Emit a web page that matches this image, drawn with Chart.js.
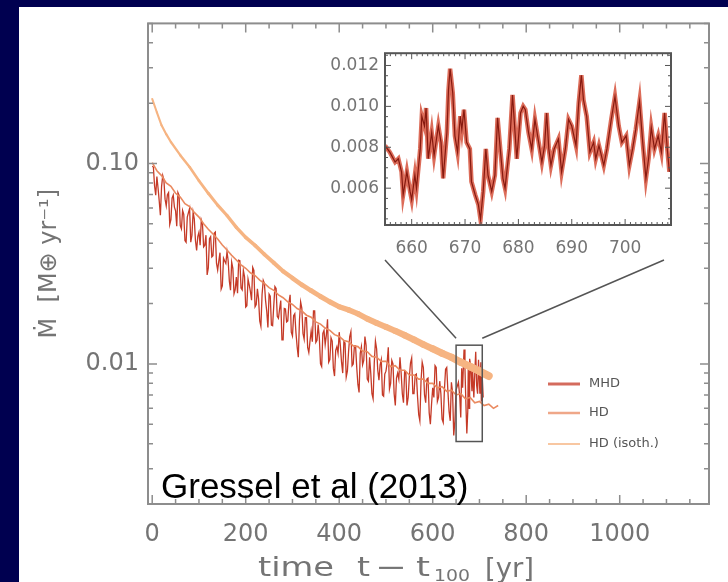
<!DOCTYPE html>
<html>
<head>
<meta charset="utf-8">
<script src="https://cdn.jsdelivr.net/npm/chart.js@4.4.1/dist/chart.umd.min.js"></script>
<style>
  html, body { margin: 0; padding: 0; background: #000050; }
  #wrap { position: relative; width: 728px; height: 582px; overflow: hidden; }
  #panel { position: absolute; left: 19px; top: 7px; width: 709px; height: 575px; background: #fff; }
  #main { position: absolute; left: 0; top: 0; }
  #inset { position: absolute; left: 322px; top: 37px; }
</style>
</head>
<body>
<div id="wrap">
  <div id="panel"></div>
  <canvas id="main" width="728" height="582"></canvas>
  <canvas id="inset" width="356" height="225"></canvas>
</div>
<script>
// values (accretion rate in M_earth/yr vs time in yr)
const xTicks = [0, 200, 400, 600, 800, 1000];
const yTicks = [0.01, 0.1];
const yTickLabels = ['0.01', '0.10'];

const insetXTicks = [660, 670, 680, 690, 700];
const insetYTicks = [0.006, 0.008, 0.010, 0.012];
const insetYTickLabels = ['0.006', '0.008', '0.010', '0.012'];

const seriesNames = ['MHD', 'HD', 'HD (isoth.)'];

const mhdTime = [
  0, 2.5, 5, 7.5, 10, 12.5, 15, 17.5, 20, 22.5,
  25, 27.5, 30, 32.5, 35, 37.5, 40, 42.5, 45, 47.5,
  50, 52.5, 55, 57.5, 60, 62.5, 65, 67.5, 70, 72.5,
  75, 77.5, 80, 82.5, 85, 87.5, 90, 92.5, 95, 97.5,
  100, 102.5, 105, 107.5, 110, 112.5, 115, 117.5, 120, 122.5,
  125, 127.5, 130, 132.5, 135, 137.5, 140, 142.5, 145, 147.5,
  150, 152.5, 155, 157.5, 160, 162.5, 165, 167.5, 170, 172.5,
  175, 177.5, 180, 182.5, 185, 187.5, 190, 192.5, 195, 197.5,
  200, 202.5, 205, 207.5, 210, 212.5, 215, 217.5, 220, 222.5,
  225, 227.5, 230, 232.5, 235, 237.5, 240, 242.5, 245, 247.5,
  250, 252.5, 255, 257.5, 260, 262.5, 265, 267.5, 270, 272.5,
  275, 277.5, 280, 282.5, 285, 287.5, 290, 292.5, 295, 297.5,
  300, 302.5, 305, 307.5, 310, 312.5, 315, 317.5, 320, 322.5,
  325, 327.5, 330, 332.5, 335, 337.5, 340, 342.5, 345, 347.5,
  350, 352.5, 355, 357.5, 360, 362.5, 365, 367.5, 370, 372.5,
  375, 377.5, 380, 382.5, 385, 387.5, 390, 392.5, 395, 397.5,
  400, 402.5, 405, 407.5, 410, 412.5, 415, 417.5, 420, 422.5,
  425, 427.5, 430, 432.5, 435, 437.5, 440, 442.5, 445, 447.5,
  450, 452.5, 455, 457.5, 460, 462.5, 465, 467.5, 470, 472.5,
  475, 477.5, 480, 482.5, 485, 487.5, 490, 492.5, 495, 497.5,
  500, 502.5, 505, 507.5, 510, 512.5, 515, 517.5, 520, 522.5,
  525, 527.5, 530, 532.5, 535, 537.5, 540, 542.5, 545, 547.5,
  550, 552.5, 555, 557.5, 560, 562.5, 565, 567.5, 570, 572.5,
  575, 577.5, 580, 582.5, 585, 587.5, 590, 592.5, 595, 597.5,
  600, 602.5, 605, 607.5, 610, 612.5, 615, 617.5, 620, 622.5,
  625, 627.5, 630, 632.5, 635, 637.5, 640, 642.5, 645, 647.5,
  650, 655, 658, 660, 662, 664, 667, 669, 671, 673,
  675, 676, 678, 679, 681, 684, 685, 688, 690, 692,
  694, 696, 698, 701, 703, 704, 706, 708
];
const mhdMdot = [
  0.097, 0.0960, 0.0774, 0.0694, 0.0860, 0.0755, 0.0650, 0.0552, 0.0766, 0.0870,
  0.0828, 0.0664, 0.0615, 0.0699, 0.0716, 0.0496, 0.0524, 0.0671, 0.0696, 0.0606,
  0.0580, 0.0486, 0.0717, 0.0694, 0.0490, 0.0472, 0.0583, 0.0558, 0.0413, 0.0405,
  0.0540, 0.0569, 0.0598, 0.0405, 0.0439, 0.0571, 0.0529, 0.0413, 0.0368, 0.0432,
  0.0454, 0.0391, 0.0523, 0.0499, 0.0384, 0.0391, 0.0439, 0.0278, 0.0301, 0.0421,
  0.0431, 0.0342, 0.0347, 0.0449, 0.0455, 0.0318, 0.0294, 0.0327, 0.0359, 0.0236,
  0.0245, 0.0337, 0.0326, 0.0317, 0.0363, 0.0327, 0.0259, 0.0233, 0.0322, 0.0300,
  0.0224, 0.0235, 0.0271, 0.0225, 0.0329, 0.0327, 0.0239, 0.0234, 0.0293, 0.0272,
  0.0192, 0.0195, 0.0265, 0.0248, 0.0230, 0.0208, 0.0303, 0.0293, 0.0193, 0.0198,
  0.0237, 0.0211, 0.0164, 0.0154, 0.0222, 0.0261, 0.0252, 0.0207, 0.0183, 0.0152,
  0.0223, 0.0218, 0.0156, 0.0155, 0.0195, 0.0243, 0.0238, 0.0173, 0.0169, 0.0188,
  0.0207, 0.0132, 0.0132, 0.0189, 0.0188, 0.0162, 0.0164, 0.0202, 0.0221, 0.0144,
  0.0138, 0.0174, 0.0178, 0.0143, 0.0122, 0.0108, 0.0165, 0.0204, 0.0190, 0.0142,
  0.0133, 0.0170, 0.0170, 0.0121, 0.0114, 0.0130, 0.0146, 0.0129, 0.0184, 0.0184,
  0.0128, 0.0131, 0.0157, 0.0135, 0.0100, 0.0097, 0.0142, 0.0147, 0.0125, 0.0139,
  0.0167, 0.0102, 0.0105, 0.0135, 0.0130, 0.0095, 0.0087, 0.0117, 0.0122, 0.0113,
  0.0144, 0.0123, 0.0102, 0.0090, 0.0129, 0.0127, 0.0086, 0.0092, 0.0115, 0.0137,
  0.0145, 0.0098, 0.0100, 0.0123, 0.0123, 0.0096, 0.0079, 0.0072, 0.0113, 0.0122,
  0.0099, 0.0104, 0.0137, 0.0124, 0.0084, 0.0082, 0.0108, 0.0090, 0.0071, 0.0067,
  0.0101, 0.0130, 0.0119, 0.0093, 0.0083, 0.0099, 0.0105, 0.0070, 0.0069, 0.0089,
  0.0092, 0.0101, 0.0121, 0.0075, 0.0080, 0.0104, 0.0100, 0.0071, 0.0062, 0.0085,
  0.0090, 0.0084, 0.0108, 0.0090, 0.0071, 0.0064, 0.0092, 0.0091, 0.0062, 0.0068,
  0.0086, 0.0101, 0.0107, 0.0071, 0.0071, 0.0088, 0.0089, 0.0069, 0.0056, 0.0052,
  0.0082, 0.0102, 0.0096, 0.0070, 0.0064, 0.0084, 0.0085, 0.0057, 0.0050, 0.0063,
  0.0076, 0.0068, 0.0098, 0.0096, 0.0065, 0.0068, 0.0082, 0.0071, 0.0053, 0.0051,
  0.0074, 0.0094, 0.0096, 0.0073, 0.0058, 0.0052, 0.0081, 0.0072, 0.0044, 0.0052,
  0.0074, 0.0081, 0.0068, 0.0054, 0.0095, 0.0076, 0.0118, 0.0095, 0.0063, 0.0045,
  0.0058, 0.0094, 0.0060, 0.0106, 0.0098, 0.0073, 0.0097, 0.0068, 0.0090, 0.0115,
  0.0078, 0.0071, 0.0105, 0.0071, 0.0102, 0.0065, 0.0086, 0.0068
];

const hdTime = [
  0, 10, 20, 30, 40, 50, 60, 70, 80, 90,
  100, 110, 120, 130, 140, 150, 160, 170, 180, 190,
  200, 210, 220, 230, 240, 250, 260, 270, 280, 290,
  300, 310, 320, 330, 340, 350, 360, 370, 380, 390,
  400, 410, 420, 430, 440, 450, 460, 470, 480, 490,
  500, 510, 520, 530, 540, 550, 560, 570, 580, 590,
  600, 610, 620, 630, 640, 650, 660, 670, 680, 690,
  700, 710, 720, 730, 740
];
const hdMdot = [
  0.101, 0.092, 0.087, 0.080, 0.077, 0.071, 0.068, 0.063, 0.061, 0.057,
  0.054, 0.050, 0.047, 0.0445, 0.042, 0.0392, 0.037, 0.0348, 0.033, 0.0312,
  0.030, 0.0285, 0.0276, 0.0262, 0.0252, 0.0240, 0.0233, 0.0221, 0.0214, 0.0204,
  0.0198, 0.0189, 0.0184, 0.0175, 0.0171, 0.0162, 0.0158, 0.0151, 0.0147, 0.0140,
  0.0137, 0.0131, 0.0129, 0.0123, 0.0122, 0.0116, 0.0115, 0.0109, 0.0108, 0.0103,
  0.0103, 0.0097, 0.0098, 0.0093, 0.0093, 0.0088, 0.0088, 0.0084, 0.0084, 0.0080,
  0.0080, 0.0076, 0.0077, 0.0073, 0.0074, 0.0070, 0.0071, 0.0067, 0.0068, 0.0064,
  0.0065, 0.0062, 0.0063, 0.0060, 0.0062
];

const isoTime = [
  0, 10, 20, 30, 40, 60, 80, 100, 120, 140,
  160, 180, 200, 220, 240, 260, 280, 300, 320, 340,
  360, 380, 400, 420, 440, 460, 480, 500, 520, 540,
  560, 580, 600, 620, 640, 660, 680, 700, 720
];
const isoMdot = [
  0.21, 0.18, 0.155, 0.140, 0.128, 0.110, 0.096, 0.082, 0.071, 0.062,
  0.055, 0.048, 0.0428, 0.0390, 0.0352, 0.0320, 0.0290, 0.0268, 0.0248, 0.0232,
  0.0217, 0.0204, 0.0193, 0.0186, 0.0178, 0.0168, 0.0160, 0.0153, 0.0146, 0.0139,
  0.0132, 0.0125, 0.0119, 0.0113, 0.0108, 0.0102, 0.0097, 0.0092, 0.0087
];

// zoomed-in MHD segment shown in the inset
const insetTime = [
  655, 655.9, 656.9, 657.5, 658.1, 658.4, 659.1, 659.7, 660, 660.6,
  660.9, 661.6, 661.9, 662.4, 662.7, 663.1, 663.75, 664.2, 665, 665.5,
  665.9, 666.6, 666.9, 667.2, 667.7, 668.1, 668.6, 669.1, 669.4, 669.8,
  670.3, 670.9, 671.2, 671.9, 672.5, 672.9, 673.4, 673.9, 674.3, 675,
  675.6, 676.1, 676.6, 677.1, 677.5, 678.3, 678.9, 679.7, 680.4, 680.9,
  681.3, 681.9, 682.5, 683.1, 683.8, 684.4, 684.9, 685.3, 685.7, 686.1,
  686.7, 687.5, 688.1, 688.8, 689.4, 690, 690.8, 691.3, 691.8, 692.2,
  692.8, 693.4, 694.1, 694.5, 695.1, 696, 696.6, 697.4, 698.1, 698.8,
  699.4, 700.2, 700.8, 701.4, 702, 702.7, 703.3, 703.9, 704.4, 704.9,
  705.5, 706.2, 706.8, 707.4, 707.9, 708.3
];
const insetMdot = [
  0.00808, 0.00776, 0.00728, 0.00744, 0.00680, 0.00568, 0.00680, 0.00584, 0.00544, 0.00664,
  0.00600, 0.00792, 0.00952, 0.00904, 0.00992, 0.00744, 0.00872, 0.00760, 0.00904, 0.00824,
  0.00648, 0.00872, 0.01080, 0.01184, 0.01064, 0.00856, 0.00776, 0.00952, 0.00888, 0.00984,
  0.00824, 0.00792, 0.00632, 0.00568, 0.00520, 0.00448, 0.00584, 0.00792, 0.00664, 0.00584,
  0.00664, 0.00944, 0.00792, 0.00648, 0.00600, 0.00792, 0.01056, 0.00744, 0.00968, 0.01000,
  0.00984, 0.00872, 0.00792, 0.00936, 0.00824, 0.00728, 0.00808, 0.00968, 0.00792, 0.00712,
  0.00792, 0.00840, 0.00680, 0.00792, 0.00936, 0.00904, 0.00808, 0.01016, 0.01152, 0.01032,
  0.00952, 0.00776, 0.00824, 0.00744, 0.00808, 0.00712, 0.00792, 0.00936, 0.01048, 0.00904,
  0.00824, 0.00856, 0.00712, 0.00792, 0.00888, 0.01024, 0.00824, 0.00648, 0.00744, 0.00896,
  0.00792, 0.00856, 0.00776, 0.00968, 0.00792, 0.00680
];

const toPoints = (xs, ys) => xs.map((x, i) => ({ x: x, y: ys[i] }));

function steps(a, b, d) {
  const out = [];
  for (let v = a; v <= b + d / 1000; v += d) out.push(Math.round(v * 1e6) / 1e6);
  return out;
}
function logMinor(lo, hi) {
  const out = [];
  [0.001, 0.01, 0.1].forEach(dec => {
    for (let k = 1; k <= 9; k++) {
      const v = Math.round(k * dec * 1e6) / 1e6;
      if (v >= lo && v <= hi) out.push(v);
    }
  });
  return out;
}

const GREY = '#747474';
const tickFont = { family: 'DejaVu Sans', size: 24 };

// box frame with inward ticks on all four sides, IDL style
const framePlugin = {
  id: 'frame',
  beforeDatasetsDraw(chart, args, o) {
    if (!o.fill) return;
    const a = chart.chartArea;
    chart.ctx.save();
    chart.ctx.fillStyle = o.fill;
    chart.ctx.fillRect(a.left, a.top, a.right - a.left, a.bottom - a.top);
    chart.ctx.restore();
  },
  afterDatasetsDraw(chart, args, o) {
    const { ctx, chartArea: a, scales } = chart;
    const isMajor = (list, v) => list.some(m => Math.abs(m - v) < 1e-9);
    ctx.save();
    ctx.strokeStyle = o.color;
    ctx.lineWidth = o.tickWidth;
    ctx.beginPath();
    o.xMinor.forEach(v => {
      const px = scales.x.getPixelForValue(v);
      if (px < a.left || px > a.right) return;
      const len = isMajor(o.xMajor, v) ? o.major : o.minor;
      ctx.moveTo(px, a.bottom); ctx.lineTo(px, a.bottom - len);
      ctx.moveTo(px, a.top); ctx.lineTo(px, a.top + len);
    });
    o.yMinor.forEach(v => {
      const py = scales.y.getPixelForValue(v);
      if (py < a.top || py > a.bottom) return;
      const len = isMajor(o.yMajor, v) ? o.major : o.minor;
      ctx.moveTo(a.left, py); ctx.lineTo(a.left + len, py);
      ctx.moveTo(a.right, py); ctx.lineTo(a.right - len, py);
    });
    ctx.stroke();
    ctx.lineWidth = o.width;
    ctx.strokeRect(a.left, a.top, a.right - a.left, a.bottom - a.top);
    ctx.restore();
  }
};

// rectangle around the zoomed region plus the two connector lines to the inset
const zoomBoxPlugin = {
  id: 'zoomBox',
  afterDatasetsDraw(chart, args, o) {
    const { ctx, scales: { x, y } } = chart;
    const l = x.getPixelForValue(o.x0), r = x.getPixelForValue(o.x1);
    const t = y.getPixelForValue(o.y1), b = y.getPixelForValue(o.y0);
    ctx.save();
    ctx.strokeStyle = o.color;
    ctx.lineWidth = o.width;
    ctx.strokeRect(l, t, r - l, b - t);
    ctx.beginPath();
    ctx.moveTo(l, t - o.gap); ctx.lineTo(o.leftEnd[0], o.leftEnd[1]);
    ctx.moveTo(r, t - o.gap); ctx.lineTo(o.rightEnd[0], o.rightEnd[1]);
    ctx.stroke();
    ctx.restore();
  }
};

const sideLegendPlugin = {
  id: 'sideLegend',
  afterDraw(chart, args, o) {
    const ctx = chart.ctx;
    ctx.save();
    ctx.font = o.font;
    ctx.textBaseline = 'middle';
    chart.data.datasets.forEach((ds, i) => {
      const yy = o.rows[i];
      ctx.globalAlpha = 0.75;
      ctx.strokeStyle = ds.borderColor;
      ctx.lineWidth = o.widths[i];
      ctx.beginPath();
      ctx.moveTo(o.x0, yy); ctx.lineTo(o.x1, yy);
      ctx.stroke();
      ctx.globalAlpha = 1;
      ctx.fillStyle = o.textColor;
      ctx.fillText(ds.label, o.textX, yy);
    });
    ctx.restore();
  }
};

// x-axis title (the original font is wide, so each piece is stretched to its span) and the citation
const textPlugin = {
  id: 'notes',
  afterDraw(chart, args, o) {
    const ctx = chart.ctx;
    ctx.save();
    ctx.textBaseline = 'alphabetic';
    ctx.fillStyle = GREY;
    o.pieces.forEach(p => {
      ctx.font = p.size + 'px "DejaVu Sans"';
      const w = ctx.measureText(p.text).width;
      ctx.save();
      ctx.translate(p.x0, p.y);
      ctx.scale((p.x1 - p.x0) / w, 1);
      ctx.fillText(p.text, 0, 0);
      ctx.restore();
    });
    ctx.font = '35px "Liberation Sans", Arial, sans-serif';
    ctx.fillStyle = '#000';
    ctx.fillText(o.cite, o.citeX, o.citeY);
    ctx.restore();
  }
};

new Chart(document.getElementById('main'), {
  type: 'line',
  data: {
    datasets: [
      { label: seriesNames[0], data: toPoints(mhdTime, mhdMdot), borderColor: '#c53a27', borderWidth: 1.3, order: 3 },
      { label: seriesNames[1], data: toPoints(hdTime, hdMdot), borderColor: '#ea8a60', borderWidth: 1.6, order: 2 },
      {
        label: seriesNames[2], data: toPoints(isoTime, isoMdot), borderColor: '#f6b482', borderWidth: 2,
        borderCapStyle: 'round', order: 1,
        segment: { borderWidth: c => 2 + 6 * c.p0.parsed.x / 720 }
      }
    ]
  },
  options: {
    responsive: false,
    animation: false,
    elements: { point: { radius: 0 }, line: { tension: 0 } },
    layout: { padding: { left: 20, top: 23, right: 19, bottom: 0 } },
    plugins: {
      legend: { display: false },
      tooltip: { enabled: false },
      frame: {
        color: '#8d8d8d', width: 2, tickWidth: 1.5, major: 9, minor: 5,
        xMajor: xTicks, xMinor: steps(0, 1150, 50),
        yMajor: yTicks, yMinor: logMinor(0.002, 0.5)
      },
      zoomBox: {
        x0: 650, x1: 706, y0: 0.0041, y1: 0.0124, color: '#555', width: 1.5, gap: 7,
        leftEnd: [385, 260], rightEnd: [664, 260]
      },
      sideLegend: {
        rows: [384, 413, 444], widths: [3, 2.5, 2], x0: 548, x1: 580, textX: 589,
        font: '13px "DejaVu Sans"', textColor: '#555'
      },
      notes: {
        pieces: [
          { text: 'time', x0: 258, x1: 334, y: 576, size: 26 },
          { text: 't', x0: 357, x1: 370, y: 576, size: 26 },
          { text: '\u2212', x0: 375, x1: 407, y: 576, size: 26 },
          { text: 't', x0: 416, x1: 430, y: 576, size: 26 },
          { text: '100', x0: 434, x1: 470, y: 581, size: 15 },
          { text: '[yr]', x0: 485, x1: 534, y: 577, size: 26 }
        ],
        cite: 'Gressel et al (2013)', citeX: 161, citeY: 498
      }
    },
    scales: {
      x: {
        type: 'linear', min: -9, max: 1191,
        grid: { display: false, drawTicks: false },
        border: { display: false },
        afterBuildTicks: s => { s.ticks = xTicks.map(v => ({ value: v })); },
        afterFit: s => { s.height = 78; },
        ticks: { padding: 16, font: tickFont, color: GREY, maxRotation: 0, autoSkip: false, callback: v => String(v) }
      },
      y: {
        type: 'logarithmic', min: 0.002, max: 0.5,
        grid: { display: false, drawTicks: false },
        border: { display: false },
        afterBuildTicks: s => { s.ticks = yTicks.map(v => ({ value: v })); },
        afterFit: s => { s.width = 128; },
        ticks: { padding: 9, font: tickFont, color: GREY, autoSkip: false, callback: (v, i) => yTickLabels[i] },
        title: {
          display: true, text: '\u1E40  [M\u2295 yr\u207B\u00B9]',
          font: { family: 'DejaVu Sans', size: 24 }, color: GREY, padding: { top: 15, bottom: 0 }
        }
      }
    }
  },
  plugins: [framePlugin, zoomBoxPlugin, sideLegendPlugin, textPlugin]
});

new Chart(document.getElementById('inset'), {
  type: 'line',
  data: {
    datasets: [
      { label: 'MHD core', data: toPoints(insetTime, insetMdot), borderColor: '#86190f', borderWidth: 1.2, order: 1 },
      { label: 'MHD', data: toPoints(insetTime, insetMdot), borderColor: 'rgba(214,82,60,0.85)', borderWidth: 4.5, order: 2 }
    ]
  },
  options: {
    responsive: false,
    animation: false,
    elements: { point: { radius: 0 }, line: { tension: 0 } },
    layout: { padding: { left: 0, top: 7, right: 7, bottom: 0 } },
    plugins: {
      legend: { display: false },
      tooltip: { enabled: false },
      frame: {
        fill: '#fff', color: '#555', width: 2, tickWidth: 1, major: 6, minor: 3,
        xMajor: insetXTicks, xMinor: steps(655, 708, 1),
        yMajor: insetYTicks, yMinor: steps(0.0045, 0.0125, 0.0005)
      }
    },
    scales: {
      x: {
        type: 'linear', min: 655, max: 708.6,
        grid: { display: false, drawTicks: false },
        border: { display: false },
        afterBuildTicks: s => { s.ticks = insetXTicks.map(v => ({ value: v })); },
        afterFit: s => { s.height = 37; },
        ticks: { padding: 13, font: { family: 'DejaVu Sans', size: 17 }, color: GREY, maxRotation: 0, autoSkip: false, callback: v => String(v) }
      },
      y: {
        type: 'linear', min: 0.0042, max: 0.0126,
        grid: { display: false, drawTicks: false },
        border: { display: false },
        afterBuildTicks: s => { s.ticks = insetYTicks.map(v => ({ value: v })); },
        afterFit: s => { s.width = 63; },
        ticks: { padding: 6, font: { family: 'DejaVu Sans', size: 17 }, color: GREY, autoSkip: false, callback: (v, i) => insetYTickLabels[i] }
      }
    }
  },
  plugins: [framePlugin]
});
</script>
</body>
</html>
